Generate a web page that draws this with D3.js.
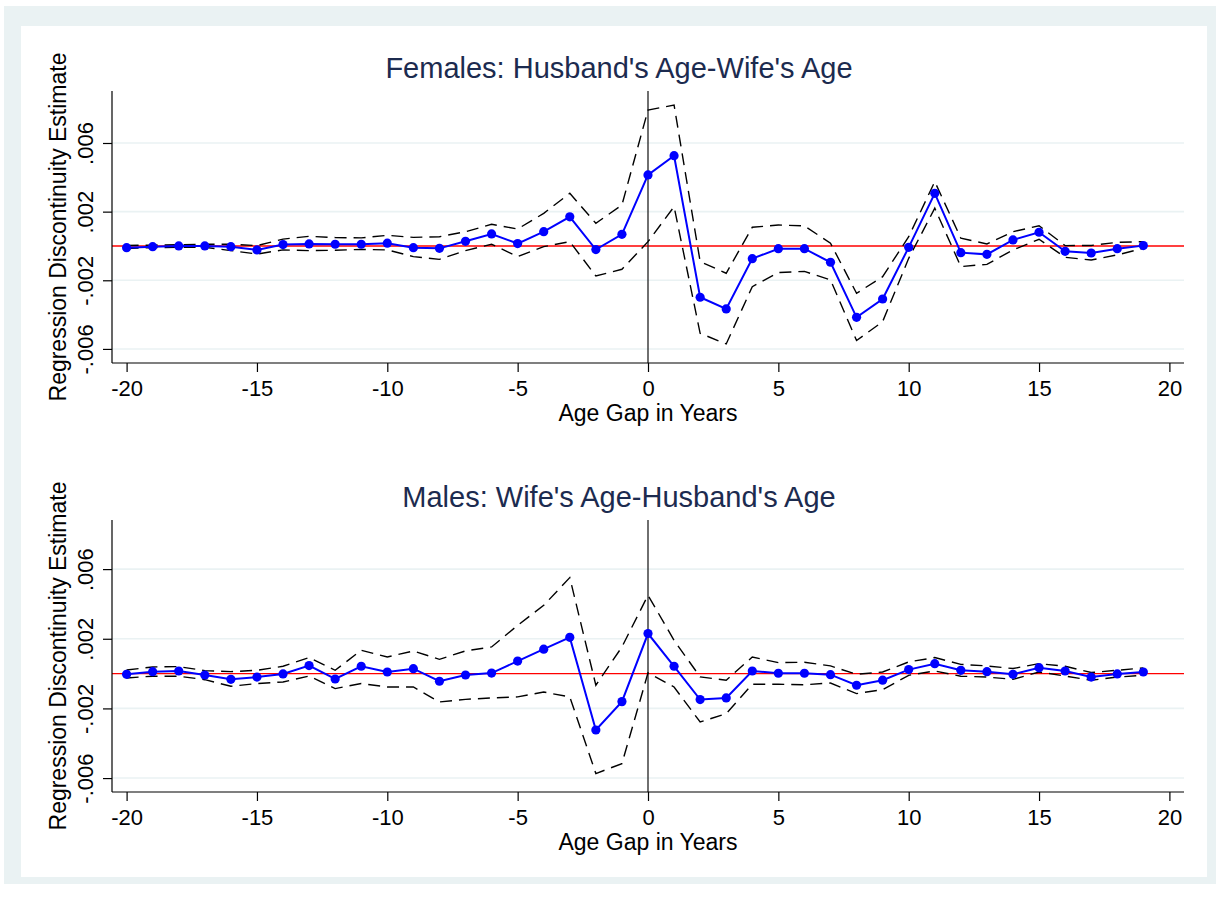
<!DOCTYPE html>
<html>
<head>
<meta charset="utf-8">
<script src="https://cdn.jsdelivr.net/npm/d3@7"></script>
<style>
    body { margin: 0; background: #ffffff; }
    text { font-family: "Liberation Sans", Arial, Helvetica, sans-serif; }
</style>
</head>
<body>
<div id="chart"></div>
<script>
const ageGap = [-20, -19, -18, -17, -16, -15, -14, -13, -12, -11, -10, -9, -8, -7, -6, -5, -4, -3, -2, -1,
    0, 1, 2, 3, 4, 5, 6, 7, 8, 9, 10, 11, 12, 13, 14, 15, 16, 17, 18, 19];

const femaleEstimate = [-0.0001, -0.00004, 0, 0, -0.00004, -0.00023, 0.00008, 0.00012, 0.0001, 0.0001,
    0.00016, -0.0001, -0.00014, 0.00027, 0.0007, 0.00014, 0.00083, 0.0017, -0.00021, 0.00068,
    0.00414, 0.00526, -0.00299, -0.00367, -0.00074, -0.00016, -0.00016, -0.00095, -0.00416, -0.00309,
    -0.00008, 0.00307, -0.00039, -0.00049, 0.00035, 0.0008, -0.00031, -0.00041, -0.00016, 0.00002];
const femaleUpper = [0.00003, 0.00005, 0.00007, 0.0001, 0.0001, 0.00002, 0.0004, 0.00056, 0.00049, 0.00047,
    0.00062, 0.0005, 0.00054, 0.00083, 0.00126, 0.00099, 0.0019, 0.00307, 0.00132, 0.00239,
    0.00792, 0.00821, -0.00091, -0.00159, 0.00109, 0.00122, 0.00117, 0.00016, -0.00276, -0.00179,
    0.00054, 0.00375, 0.00045, 0.00012, 0.00083, 0.00118, 0.00002, 0.00003, 0.00021, 0.00025];
const femaleLower = [-0.00015, -0.0001, -0.00008, -0.00008, -0.00027, -0.00047, -0.00023, -0.00027, -0.00025, -0.0002,
    -0.00023, -0.00062, -0.00078, -0.00027, 0.0001, -0.00062, -0.00004, 0.00025, -0.00175, -0.00136,
    0.00025, 0.00229, -0.00509, -0.00571, -0.00237, -0.00155, -0.00148, -0.00198, -0.00551, -0.00441,
    -0.00072, 0.0022, -0.0012, -0.00107, -0.00023, 0.00039, -0.00066, -0.00082, -0.00052, -0.00014];

const maleEstimate = [-0.00004, 0.00011, 0.00015, -0.00008, -0.00033, -0.0002, -0.00002, 0.00046, -0.00031, 0.00042,
    0.00009, 0.00028, -0.00044, -0.00008, 0.00003, 0.00072, 0.0014, 0.00208, -0.00324, -0.00161,
    0.0023, 0.00042, -0.00149, -0.0014, 0.00015, 0.00002, 0.00002, -0.00006, -0.00067, -0.00038,
    0.00023, 0.00057, 0.00019, 0.00011, -0.00004, 0.00034, 0.00015, -0.0002, -0.00002, 0.00009];
const maleUpper = [0.00021, 0.00038, 0.0004, 0.00017, 0.00011, 0.00019, 0.00042, 0.00092, 0.00019, 0.00134,
    0.00095, 0.0013, 0.00082, 0.0013, 0.00153, 0.00277, 0.00392, 0.00551, -0.00067, 0.00153,
    0.0045, 0.00191, -0.00019, -0.00038, 0.00095, 0.00063, 0.00065, 0.00044, -0.00004, 0.00009,
    0.00067, 0.00092, 0.00053, 0.00044, 0.00029, 0.00057, 0.00042, 0.00006, 0.00019, 0.00032];
const maleLower = [-0.00025, -0.00015, -0.00015, -0.00035, -0.00073, -0.00057, -0.00048, -0.00014, -0.00086, -0.00057,
    -0.00077, -0.00077, -0.00163, -0.00148, -0.0014, -0.00134, -0.00106, -0.00134, -0.00574, -0.00517,
    0.00004, -0.00077, -0.00278, -0.0023, -0.00061, -0.00061, -0.00064, -0.00054, -0.00115, -0.00092,
    -0.0001, 0.00015, -0.00015, -0.0002, -0.00033, 0.00009, -0.00014, -0.00038, -0.0002, -0.0001];

const xTicks = [-20, -15, -10, -5, 0, 5, 10, 15, 20];
const xTickLabels = ["-20", "-15", "-10", "-5", "0", "5", "10", "15", "20"];
const yTicks = [-0.006, -0.002, 0.002, 0.006];
const yTickLabels = ["-.006", "-.002", ".002", ".006"];

const panelTitles = ["Females: Husband's Age-Wife's Age", "Males: Wife's Age-Husband's Age"];
const xAxisTitle = "Age Gap in Years";
const yAxisTitle = "Regression Discontinuity Estimate";

const width = 1216;
const height = 900;
const bg = "#eaf2f3";

const svg = d3.select("#chart")
    .append("svg")
    .attr("width", width)
    .attr("height", height);

// graph region: bluish frame with white plot area inside
svg.append("rect")
    .attr("x", 4).attr("y", 6)
    .attr("width", width - 4).attr("height", 878)
    .attr("fill", bg);
svg.append("rect")
    .attr("x", 21).attr("y", 26)
    .attr("width", 1186).attr("height", 851)
    .attr("fill", "#ffffff");

function drawPanel(cfg) {
    const left = 112, right = 1184;

    const x = d3.scaleLinear()
        .domain([-20.56, 20.56])
        .range([left, right]);

    const y = d3.scaleLinear()
        .domain(cfg.yDomain)
        .range([cfg.bottom, cfg.top]);

    const g = svg.append("g");

    // gridlines
    g.selectAll(".grid")
        .data(yTicks)
        .enter().append("line")
        .attr("x1", left).attr("x2", right)
        .attr("y1", d => y(d)).attr("y2", d => y(d))
        .attr("stroke", bg)
        .attr("stroke-width", 1.6);

    // reference lines
    g.append("line")
        .attr("x1", left).attr("x2", right)
        .attr("y1", y(0)).attr("y2", y(0))
        .attr("stroke", "#ff0000")
        .attr("stroke-width", 1.4);

    g.append("line")
        .attr("x1", x(0)).attr("x2", x(0))
        .attr("y1", cfg.top).attr("y2", cfg.bottom)
        .attr("stroke", "#222")
        .attr("stroke-width", 1.3);

    const ciLine = d3.line()
        .x((d, i) => x(ageGap[i]))
        .y(d => y(d));

    [cfg.upper, cfg.lower].forEach(series => {
        g.append("path")
            .datum(series)
            .attr("d", ciLine)
            .attr("fill", "none")
            .attr("stroke", "#000")
            .attr("stroke-width", 1.4)
            .attr("stroke-dasharray", "12,7");
    });

    g.append("path")
        .datum(cfg.estimate)
        .attr("d", ciLine)
        .attr("fill", "none")
        .attr("stroke", "#0000ff")
        .attr("stroke-width", 2);

    g.selectAll(".dot")
        .data(cfg.estimate)
        .enter().append("circle")
        .attr("cx", (d, i) => x(ageGap[i]))
        .attr("cy", d => y(d))
        .attr("r", 4.6)
        .attr("fill", "#0000ff");

    // axes
    const xAxis = g.append("g")
        .attr("transform", `translate(0,${cfg.bottom})`)
        .call(d3.axisBottom(x).tickValues(xTicks).tickSize(9).tickFormat((d, i) => xTickLabels[i]));

    const yAxis = g.append("g")
        .attr("transform", `translate(${left},0)`)
        .call(d3.axisLeft(y).tickValues(yTicks).tickSize(9).tickFormat((d, i) => yTickLabels[i]));

    xAxis.select(".domain").attr("d", `M${left},0H${right}`);
    yAxis.select(".domain").attr("d", `M0,${cfg.top}V${cfg.bottom}`);

    g.selectAll(".domain, .tick line")
        .attr("stroke", "#000")
        .attr("stroke-width", 1.2);

    xAxis.selectAll("text")
        .attr("font-size", 22)
        .attr("fill", "#000")
        .attr("dy", null)
        .attr("y", 33);

    yAxis.selectAll("text")
        .attr("font-size", 22)
        .attr("fill", "#000")
        .attr("x", null).attr("dy", null)
        .attr("text-anchor", "middle")
        .attr("transform", "translate(-19,0) rotate(-90)");

    g.append("text")
        .attr("x", x(0))
        .attr("y", cfg.bottom + 58)
        .attr("text-anchor", "middle")
        .attr("font-size", 23)
        .attr("fill", "#000")
        .text(xAxisTitle);

    g.append("text")
        .attr("transform", `translate(66,${(cfg.top + cfg.bottom) / 2}) rotate(-90)`)
        .attr("text-anchor", "middle")
        .attr("font-size", 23)
        .attr("fill", "#000")
        .text(yAxisTitle);

    g.append("text")
        .attr("x", 619)
        .attr("y", cfg.top - 13)
        .attr("text-anchor", "middle")
        .attr("font-size", 29)
        .attr("fill", "#1c2b4f")
        .text(cfg.title);
}

drawPanel({
    title: panelTitles[0],
    top: 91, bottom: 363,
    yDomain: [-0.00682, 0.00903],
    estimate: femaleEstimate, upper: femaleUpper, lower: femaleLower
});

drawPanel({
    title: panelTitles[1],
    top: 520, bottom: 792,
    yDomain: [-0.0068, 0.00882],
    estimate: maleEstimate, upper: maleUpper, lower: maleLower
});
</script>
</body>
</html>
